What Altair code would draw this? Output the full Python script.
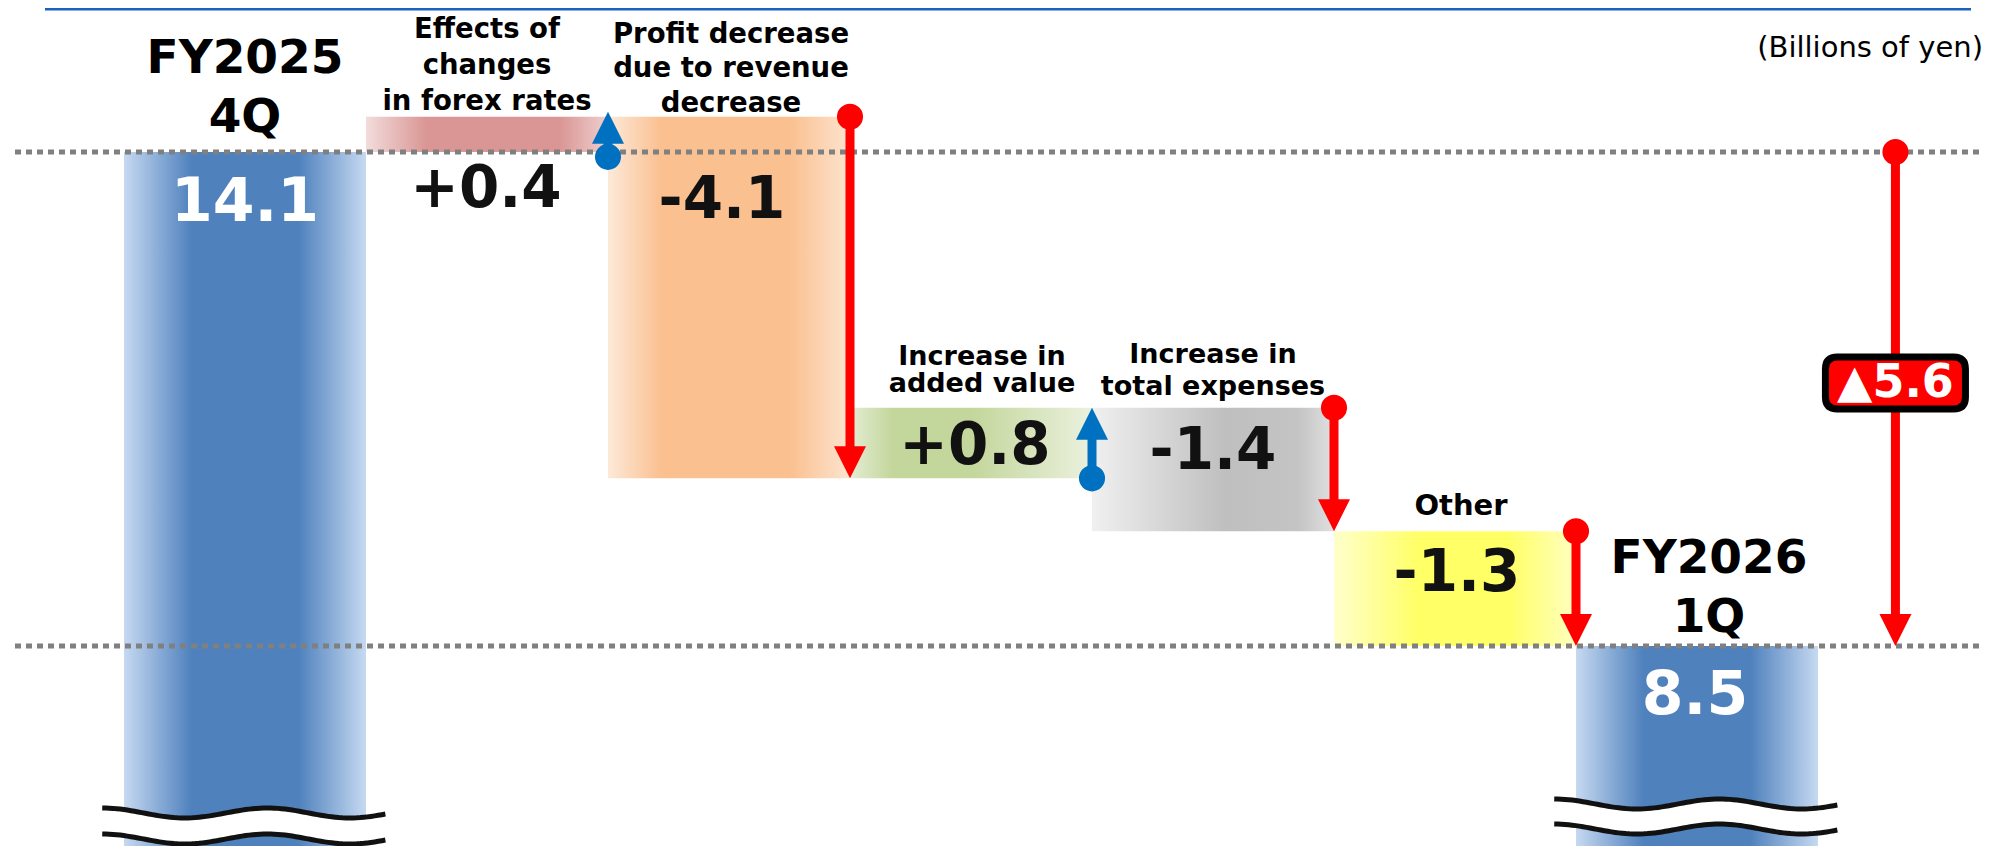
import altair as alt
import numpy as np
import pandas as pd

# ---------------- data ----------------
categories = [
    "FY2025\n4Q",
    "Effects of\nchanges\nin forex rates",
    "Profit decrease\ndue to revenue\ndecrease",
    "Increase in\nadded value",
    "Increase in\ntotal expenses",
    "Other",
    "FY2026\n1Q",
]
kinds = ["total", "delta", "delta", "delta", "delta", "delta", "total"]
values = [14.1, 0.4, -4.1, 0.8, -1.4, -1.3, 8.5]
value_labels = ["14.1", "+0.4", "-4.1", "+0.8", "-1.4", "-1.3", "8.5"]
total_change_label = "▲5.6"
unit_label = "(Billions of yen)"

# ---------------- layout / style ----------------
W, H = 1975, 838
SLOT = 242.0          # px per category slot
X_ORIGIN = 116.0      # px of left edge of first slot
PPU = 88.2            # px per billion yen
Y_ORIGIN = 144.0      # px of the first total level
TOTAL_ARROW_X = 7.32  # slot units
BOX_LEVEL = 11.48     # level of the total-change badge
MIN_ARROW_PX = 45     # short arrows are drawn at least this long

XD = [-X_ORIGIN / SLOT, (W - X_ORIGIN) / SLOT]
YD = [values[0] - (H - Y_ORIGIN) / PPU, values[0] + Y_ORIGIN / PPU]
xs = alt.Scale(domain=XD, nice=False, zero=False)
ys = alt.Scale(domain=YD, nice=False, zero=False)


def grad(stops):
    return alt.LinearGradient(
        gradient="linear",
        stops=[alt.GradientStop(offset=o, color=c) for o, c in stops],
        x1=0, x2=1, y1=0, y2=0,
    )


BLUE = [(0, "#c6d9f1"), (0.28, "#4f81bd"), (0.72, "#4f81bd"), (1, "#c6d9f1")]
FOREX = [(0, "#f2dcdb"), (0.25, "#d99694"), (0.8, "#d99694"), (1, "#efcfcf")]
ORANGE = [(0, "#fde9d9"), (0.22, "#fac090"), (0.75, "#fac090"), (1, "#fde4cf")]
GREEN = [(0, "#e4ecd3"), (0.18, "#c3d69b"), (0.5, "#c3d69b"), (1, "#ebf1de")]
GRAY = [(0, "#f0f0f0"), (0.55, "#bfbfbf"), (0.85, "#c4c4c4"), (1, "#e0e0e0")]
YELLOW = [(0, "#ffffcc"), (0.35, "#ffff66"), (0.72, "#ffff66"), (1, "#ffffc0")]
GRADS = [BLUE, FOREX, ORANGE, GREEN, GRAY, YELLOW, BLUE]

VALUE_OFFSET_PX = [51, 73, 84, 39, 44, 43, 50]   # label anchor below bar top
VALUE_DX_PX = [0, -1, -7, 4, 0, 2, -2]
VALUE_SIZE = [60, 58, 58, 58, 58, 58, 60]

CAT_STYLE = [
    # font size, lineHeight, px above bar top (first line anchor), dx px
    (47, 59, 93, 0),
    (27.5, 36, 87, 0),
    (27.5, 34.5, 82, 2),
    (27, 27, 51, 11),
    (27, 32, 53, 0),
    (29, 30, 25, 6),
    (47, 59, 87, 12),
]
FONT = "DejaVu Sans"

RED = "#ff0000"
BLUEARROW = "#0070c0"
HEAD_H = 32

# ---------------- derived tables ----------------
rows = []
running = 0.0
for i, (k, v) in enumerate(zip(kinds, values)):
    if k == "total":
        lo, hi, start, end = 0.0, v, None, None
        running = v
    else:
        start = running
        end = round(running + v, 4)
        lo, hi = min(start, end), max(start, end)
        running = end
    top = v if k == "total" else hi
    rows.append(dict(i=i, x0=i, x1=i + 1, lo=lo, hi=hi, top=top, start=start, end=end))
bars = pd.DataFrame(rows)

# arrows
arr = []
for r in rows:
    if kinds[r["i"]] == "delta":
        arr.append(dict(x=r["i"] + 1, start=r["start"], end=r["end"]))
arr.append(dict(x=TOTAL_ARROW_X, start=values[0], end=values[-1]))
arrows = pd.DataFrame(arr)
arrows["sign"] = np.sign(arrows["end"] - arrows["start"])
span_px = (arrows["end"] - arrows["start"]).abs() * PPU
ext = np.clip((MIN_ARROW_PX - span_px) / 2.0, 0, None) / PPU
arrows["dot"] = arrows["start"] - arrows["sign"] * ext
arrows["tip"] = arrows["end"] + arrows["sign"] * ext
arrows["col"] = np.where(arrows["sign"] > 0, BLUEARROW, RED)
arrows["shaft_end"] = arrows["tip"] - arrows["sign"] * (HEAD_H * 0.7 / PPU)

# value labels
vl = pd.DataFrame(dict(
    x=[r["i"] + 0.5 + VALUE_DX_PX[r["i"]] / SLOT for r in rows],
    y=[r["top"] - VALUE_OFFSET_PX[r["i"]] / PPU for r in rows],
    t=value_labels,
    tc=["white" if k == "total" else "#111111" for k in kinds],
    fs=VALUE_SIZE,
))

# break marks on the two total bars
BREAK_LEVELS = {0: (6.606, 6.311), 6: (6.708, 6.424)}
wave_area, wave_line = [], []
for i, (up, dn) in BREAK_LEVELS.items():
    xx = np.linspace(i - 0.09, i + 1.08, 80)
    ph = np.cos(2 * np.pi * (xx - xx[0]) * SLOT / 165.0) * (5 / PPU)
    for x_, p in zip(xx, ph):
        wave_area.append(dict(x=x_, top=up + p, bot=dn + p, g=i))
        wave_line.append(dict(x=x_, y=up + p, g=f"{i}u"))
        wave_line.append(dict(x=x_, y=dn + p, g=f"{i}d"))
wave_area = pd.DataFrame(wave_area)
wave_line = pd.DataFrame(wave_line)

# ---------------- layers ----------------
layers = []
for i in range(len(values)):
    layers.append(
        alt.Chart(bars).transform_filter(alt.datum.i == i)
        .mark_rect(fill=grad(GRADS[i]), strokeWidth=0, clip=True)
        .encode(x=alt.X("x0:Q", scale=xs, axis=None), x2="x1:Q",
                y=alt.Y("lo:Q", scale=ys, axis=None), y2="hi:Q")
    )

levels = pd.DataFrame({"v": [values[0], values[-1]]})
layers.append(
    alt.Chart(levels).mark_rule(color="#808080", strokeWidth=5, strokeDash=[6, 5])
    .encode(y=alt.Y("v:Q", scale=ys, axis=None), x=alt.value(7), x2=alt.value(W))
)

layers.append(
    alt.Chart(wave_area).mark_area(color="white", opacity=1)
    .encode(x=alt.X("x:Q", scale=xs, axis=None), y=alt.Y("top:Q", scale=ys, axis=None),
            y2="bot:Q", detail="g:N")
)
layers.append(
    alt.Chart(wave_line).mark_line(color="#111111", strokeWidth=5)
    .encode(x=alt.X("x:Q", scale=xs, axis=None), y=alt.Y("y:Q", scale=ys, axis=None),
            detail="g:N")
)

# arrows
layers.append(
    alt.Chart(arrows).mark_rule(strokeWidth=9)
    .encode(x=alt.X("x:Q", scale=xs, axis=None), y=alt.Y("dot:Q", scale=ys, axis=None),
            y2="shaft_end:Q", color=alt.Color("col:N", scale=None))
)
layers.append(
    alt.Chart(arrows).mark_circle(size=680, opacity=1)
    .encode(x=alt.X("x:Q", scale=xs, axis=None), y=alt.Y("dot:Q", scale=ys, axis=None),
            color=alt.Color("col:N", scale=None))
)
HEAD_DOWN = "M-16,-32 L16,-32 L0,0 Z"
HEAD_UP = "M-16,32 L16,32 L0,0 Z"
layers.append(
    alt.Chart(arrows).transform_filter(alt.datum.sign < 0)
    .mark_point(shape=HEAD_DOWN, size=4, filled=True, opacity=1, strokeWidth=0)
    .encode(x=alt.X("x:Q", scale=xs, axis=None), y=alt.Y("tip:Q", scale=ys, axis=None),
            color=alt.Color("col:N", scale=None))
)
layers.append(
    alt.Chart(arrows).transform_filter(alt.datum.sign > 0)
    .mark_point(shape=HEAD_UP, size=4, filled=True, opacity=1, strokeWidth=0)
    .encode(x=alt.X("x:Q", scale=xs, axis=None), y=alt.Y("tip:Q", scale=ys, axis=None),
            color=alt.Color("col:N", scale=None))
)

# total change badge
badge = pd.DataFrame({"x": [TOTAL_ARROW_X], "y": [BOX_LEVEL], "t": [total_change_label]})
BOX = ("M-58,-26 L58,-26 Q70,-26 70,-14 L70,14 Q70,26 58,26 L-58,26 "
       "Q-70,26 -70,14 L-70,-14 Q-70,-26 -58,-26 Z")
layers.append(
    alt.Chart(badge).mark_point(shape=BOX, size=4, filled=True, fill=RED, stroke="black",
                                strokeWidth=7, opacity=1, strokeOpacity=1)
    .encode(x=alt.X("x:Q", scale=xs, axis=None), y=alt.Y("y:Q", scale=ys, axis=None))
)
layers.append(
    alt.Chart(badge).mark_text(font=FONT, fontWeight="bold", fontSize=46,
                               color="white", align="center", baseline="middle")
    .encode(x=alt.X("x:Q", scale=xs, axis=None), y=alt.Y("y:Q", scale=ys, axis=None), text="t:N")
)

# value labels
layers.append(
    alt.Chart(vl).mark_text(font=FONT, fontWeight="bold", align="center", baseline="middle")
    .encode(x=alt.X("x:Q", scale=xs, axis=None), y=alt.Y("y:Q", scale=ys, axis=None),
            text="t:N", color=alt.Color("tc:N", scale=None), size=alt.Size("fs:Q", scale=None))
)

# category labels (anchor = first line)
for i, (fs, lh, up, dx) in enumerate(CAT_STYLE):
    d = pd.DataFrame({"x": [i + 0.5 + dx / SLOT], "y": [rows[i]["top"] + up / PPU], "t": [categories[i]]})
    layers.append(
        alt.Chart(d).mark_text(font=FONT, fontWeight="bold", fontSize=fs, lineHeight=lh,
                               lineBreak="\n", align="center", baseline="middle", color="black")
        .encode(x=alt.X("x:Q", scale=xs, axis=None), y=alt.Y("y:Q", scale=ys, axis=None), text="t:N")
    )

# unit note and top rule
unit = pd.DataFrame({"t": [unit_label]})
layers.append(
    alt.Chart(unit).mark_text(font=FONT, fontSize=29, align="right",
                              baseline="middle", color="black")
    .encode(x=alt.value(W), y=alt.value(40), text="t:N")
)
layers.append(
    alt.Chart(unit).mark_rule(color="#1a62c0", strokeWidth=3)
    .encode(x=alt.value(37), x2=alt.value(1963), y=alt.value(1))
)

chart = (
    alt.layer(*layers)
    .properties(width=W, height=H, padding=0, autosize="none", background="white")
    .configure_view(stroke=None)
)

chart.save("out.html", embed_options={"renderer": "svg", "actions": False})
